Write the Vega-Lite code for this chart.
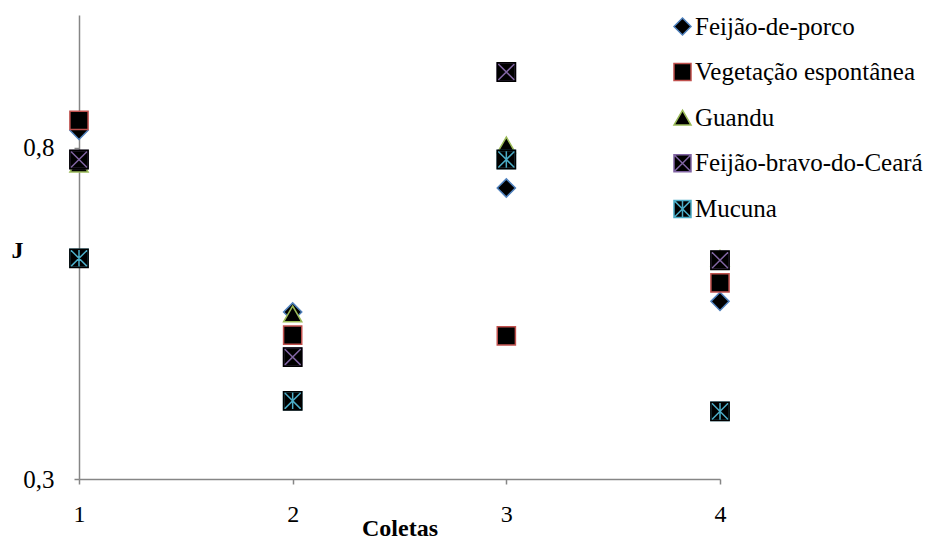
{
  "$schema": "https://vega.github.io/schema/vega-lite/v6.json",
  "width": 641,
  "height": 464,
  "autosize": {"type": "none"},
  "padding": {"left": 79, "top": 15, "right": 217, "bottom": 61},
  "background": "white",
  "config": {"view": {"stroke": null}, "font": "Liberation Serif"},
  "data": {
    "values": [
      {"serie": "Feijão-de-porco", "coleta": 1, "J": 0.826},
      {"serie": "Feijão-de-porco", "coleta": 2, "J": 0.552},
      {"serie": "Feijão-de-porco", "coleta": 3, "J": 0.739},
      {"serie": "Feijão-de-porco", "coleta": 4, "J": 0.568},
      {"serie": "Vegetação espontânea", "coleta": 1, "J": 0.841},
      {"serie": "Vegetação espontânea", "coleta": 2, "J": 0.517},
      {"serie": "Vegetação espontânea", "coleta": 3, "J": 0.516},
      {"serie": "Vegetação espontânea", "coleta": 4, "J": 0.596},
      {"serie": "Guandu", "coleta": 1, "J": 0.775},
      {"serie": "Guandu", "coleta": 2, "J": 0.549},
      {"serie": "Guandu", "coleta": 3, "J": 0.804},
      {"serie": "Guandu", "coleta": 4, "J": 0.633},
      {"serie": "Feijão-bravo-do-Ceará", "coleta": 1, "J": 0.782},
      {"serie": "Feijão-bravo-do-Ceará", "coleta": 2, "J": 0.484},
      {"serie": "Feijão-bravo-do-Ceará", "coleta": 3, "J": 0.914},
      {"serie": "Feijão-bravo-do-Ceará", "coleta": 4, "J": 0.630},
      {"serie": "Mucuna", "coleta": 1, "J": 0.633},
      {"serie": "Mucuna", "coleta": 2, "J": 0.418},
      {"serie": "Mucuna", "coleta": 3, "J": 0.782},
      {"serie": "Mucuna", "coleta": 4, "J": 0.402}
    ]
  },
  "layer": [
    {
      "mark": {"type": "point", "fill": "black", "fillOpacity": 1, "strokeWidth": 1.5, "opacity": 1, "size": 330},
      "encoding": {
        "x": {
          "field": "coleta", "type": "quantitative",
          "scale": {"domain": [1, 4], "nice": false, "zero": false},
          "axis": {
            "values": [1, 2, 3, 4], "format": "d", "grid": false, "labelFlush": false,
            "domainColor": "#868686", "domainWidth": 1.5, "tickColor": "#868686", "tickWidth": 1.5, "tickSize": 5,
            "labelFont": "Liberation Serif", "labelFontSize": 24, "labelColor": "black", "labelPadding": 18,
            "titleFont": "Liberation Serif", "titleFontSize": 24, "titleFontWeight": "bold", "titleColor": "black",
            "titleBaseline": "alphabetic", "titleY": 56, "titleX": 320.5, "titleAlign": "center"
          },
          "title": "Coletas"
        },
        "y": {
          "field": "J", "type": "quantitative",
          "scale": {"domain": [0.3, 1.0], "nice": false, "zero": false},
          "axis": {
            "values": [0.3, 0.8], "labelExpr": "replace(format(datum.value, '.1f'), '.', ',')", "grid": false,
            "domainColor": "#868686", "domainWidth": 1.5, "tickColor": "#868686", "tickWidth": 1.5, "tickSize": 5,
            "labelFont": "Liberation Serif", "labelFontSize": 25, "labelColor": "black", "labelPadding": 20,
            "titleFont": "Liberation Serif", "titleFontSize": 24, "titleFontWeight": "bold", "titleColor": "black",
            "titleAngle": 0, "titleAlign": "center", "titleBaseline": "middle", "titleX": -62, "titleY": 235
          },
          "title": "J"
        },
        "stroke": {
          "field": "serie", "type": "nominal",
          "scale": {
            "domain": ["Feijão-de-porco", "Vegetação espontânea", "Guandu", "Feijão-bravo-do-Ceará", "Mucuna"],
            "range": ["#4F81BD", "#C0504D", "#9BBB59", "#8064A2", "#4BACC6"]
          },
          "legend": {
            "title": null, "orient": "none", "legendX": 591, "legendY": -1, "padding": 0,
            "labelFont": "Liberation Serif", "labelFontSize": 25, "labelColor": "black", "labelLimit": 400,
            "symbolSize": 290, "symbolStrokeWidth": 1.5, "symbolOpacity": 1, "rowPadding": 19.6, "labelOffset": 0,
            "encode": {"symbols": {"update": {"fill": {"value": "black"}, "fillOpacity": {"value": 1}}}}
          }
        },
        "shape": {
          "field": "serie", "type": "nominal",
          "scale": {
            "domain": ["Feijão-de-porco", "Vegetação espontânea", "Guandu", "Feijão-bravo-do-Ceará", "Mucuna"],
            "range": ["diamond", "square", "triangle-up", "M-1,-1L1,-1L1,1L-1,1Z M-1,-1L1,1 M1,-1L-1,1", "M-1,-1L1,-1L1,1L-1,1Z M-1,-1L1,1 M1,-1L-1,1 M0,-1L0,1"]
          },
          "legend": {
            "title": null, "orient": "none", "legendX": 591, "legendY": -1, "padding": 0,
            "labelFont": "Liberation Serif", "labelFontSize": 25, "labelColor": "black", "labelLimit": 400,
            "symbolSize": 290, "symbolStrokeWidth": 1.5, "symbolOpacity": 1, "rowPadding": 19.6, "labelOffset": 0,
            "encode": {"symbols": {"update": {"fill": {"value": "black"}, "fillOpacity": {"value": 1}}}}
          }
        }
      }
    },
    {
      "transform": [{"filter": "datum.serie === 'Feijão-bravo-do-Ceará' || datum.serie === 'Mucuna'"}],
      "mark": {"type": "point", "shape": "square", "filled": false, "fillOpacity": 0, "stroke": "black", "strokeWidth": 1.6, "size": 330, "opacity": 1},
      "encoding": {
        "x": {"field": "coleta", "type": "quantitative"},
        "y": {"field": "J", "type": "quantitative"}
      }
    }
  ]
}
